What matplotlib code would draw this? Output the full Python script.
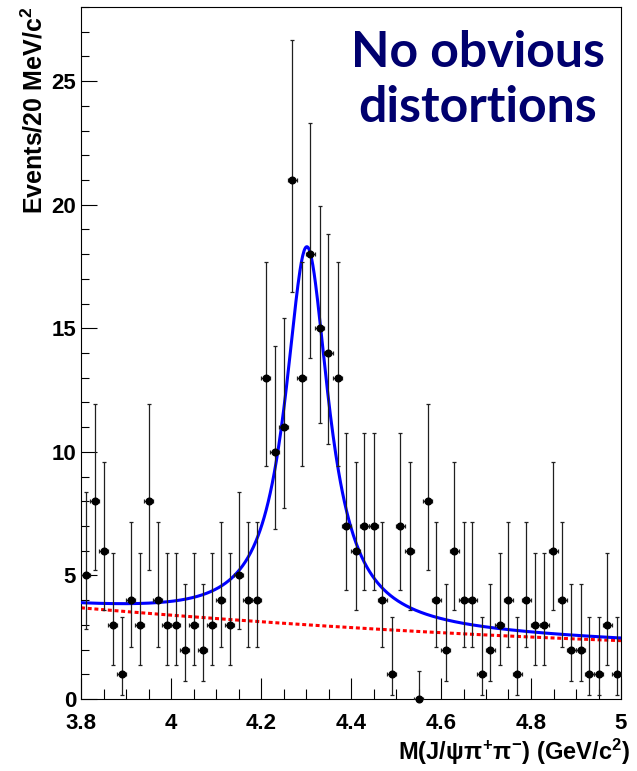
import math
import numpy as np
import matplotlib
matplotlib.use("Agg")
import matplotlib.pyplot as plt
from matplotlib.ticker import MultipleLocator, FixedLocator, FuncFormatter

# ---------------- data ----------------
bin_centers = [round(3.81 + 0.02 * i, 2) for i in range(60)]
counts = [5, 8, 6, 3, 1, 4, 3, 8, 4, 3,
          3, 2, 3, 2, 3, 4, 3, 5, 4, 4,
          13, 10, 11, 21, 13, 18, 15, 14, 13, 7,
          6, 7, 7, 4, 1, 7, 6, 0, 8, 4,
          2, 6, 4, 4, 1, 2, 3, 4, 1, 4,
          3, 3, 6, 4, 2, 2, 1, 1, 3, 1]
bin_half_width = 0.01

# fit model parameters
bw_mass = 4.302
bw_width = 0.1175
bw_peak = 15.3
bkg_coef = [3.69, -1.56, 0.377]   # quadratic in (m - 3.8)

x_ticks = [3.8, 4.0, 4.2, 4.4, 4.6, 4.8, 5.0]
y_ticks = [0, 5, 10, 15, 20, 25]
x_range = (3.8, 5.0)
y_range = (0, 28)

title_lines = ["No obvious", "distortions"]
x_label = r"M(J/$\psi\pi^{+}\pi^{-}$) (GeV/c$^{2}$)"
y_label = r"Events/20 MeV/c$^{2}$"


# ---------------- Poisson (Garwood) intervals ----------------
def pois_cdf(n, mu):
    if mu <= 0:
        return 1.0
    s = 0.0
    for k in range(n + 1):
        s += math.exp(k * math.log(mu) - mu - math.lgamma(k + 1))
    return s


def solve(f, lo, hi, target):
    # f decreasing in mu
    for _ in range(100):
        mid = 0.5 * (lo + hi)
        if f(mid) > target:
            lo = mid
        else:
            hi = mid
    return 0.5 * (lo + hi)


alpha = (1 - 0.682689) / 2
err_lo, err_hi = [], []
for n in counts:
    if n == 0:
        up = -math.log(1 - 0.682689)
        err_lo.append(0.0)
        err_hi.append(up)
        continue
    up = solve(lambda mu: pois_cdf(n, mu), 0.0, n + 30.0, alpha)
    low = solve(lambda mu: pois_cdf(n - 1, mu), 0.0, n + 30.0, 1 - alpha)
    err_lo.append(n - low)
    err_hi.append(up - n)

# ---------------- figure ----------------
plt.rcParams["font.family"] = ["Liberation Sans", "DejaVu Sans"]
plt.rcParams["font.weight"] = "bold"
plt.rcParams["mathtext.fontset"] = "custom"
plt.rcParams["mathtext.rm"] = "Liberation Sans:bold"
plt.rcParams["mathtext.it"] = "Liberation Sans:bold"
plt.rcParams["mathtext.bf"] = "Liberation Sans:bold"

W, H = 637, 771
fig = plt.figure(figsize=(W / 100, H / 100), dpi=100)
ax = fig.add_axes([81 / W, (H - 699) / H, 540 / W, 692 / H])

m = np.linspace(x_range[0], x_range[1], 800)
dm = m - 3.8
bkg = bkg_coef[0] + bkg_coef[1] * dm + bkg_coef[2] * dm ** 2
sig = bw_peak * (bw_width / 2) ** 2 / ((m - bw_mass) ** 2 + (bw_width / 2) ** 2)
total = bkg + sig

ax.plot(m, bkg, color="#ff0000", lw=2.2, dashes=(1.3, 0.9), zorder=2)
ax.plot(m, total, color="#0000ff", lw=2.2, zorder=3)

eb = ax.errorbar(bin_centers, counts, yerr=[err_lo, err_hi], xerr=bin_half_width,
                 fmt="o", color="black", ecolor="#202020", elinewidth=0.9,
                 markersize=4.8, capsize=1.5, capthick=0.9, zorder=4)
eb.lines[0].set_clip_on(False)

ax.set_xlim(*x_range)
ax.set_ylim(*y_range)

ax.xaxis.set_major_locator(FixedLocator(x_ticks))
ax.xaxis.set_minor_locator(MultipleLocator(0.05))
ax.yaxis.set_major_locator(FixedLocator(y_ticks))
ax.yaxis.set_minor_locator(MultipleLocator(1))
ax.xaxis.set_major_formatter(FuncFormatter(lambda v, p: f"{v:g}"))

ax.tick_params(axis="both", which="both", direction="in", top=False, right=False,
               width=0.8, color="black")
ax.tick_params(axis="x", which="major", length=15, labelsize=16, pad=10)
ax.tick_params(axis="x", which="minor", length=7.5)
ax.tick_params(axis="y", which="major", length=11.7, labelsize=16, pad=3.5)
ax.tick_params(axis="y", which="minor", length=5.8)
for lab in ax.get_xticklabels() + ax.get_yticklabels():
    lab.set_fontweight("bold")

for sp in ax.spines.values():
    sp.set_linewidth(0.8)
    sp.set_color("black")

px = lambda x, y: (x / W, 1 - y / H)
fig.text(*px(630, 752), x_label, ha="right", va="center", fontsize=17, fontweight="bold")
fig.text(*px(34, 7), y_label, ha="center", va="top", rotation=90, fontsize=18,
         fontweight="bold")

fig.text(*px(478, 67), title_lines[0], ha="center", va="baseline", fontsize=36,
         fontweight="bold", family="Lato", color="#00006e")
fig.text(*px(478, 122), title_lines[1], ha="center", va="baseline", fontsize=36,
         fontweight="bold", family="Lato", color="#00006e")

fig.savefig("out.png", dpi=100)
